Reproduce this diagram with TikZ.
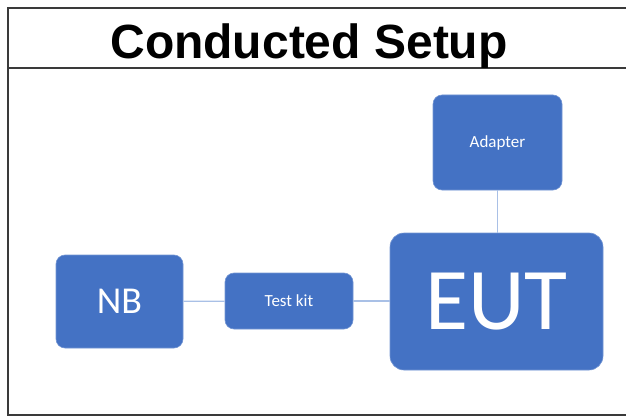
\documentclass[tikz,border=0pt]{standalone}
\usepackage{fontspec}
\setmainfont{Carlito}
\newfontfamily\titlefont{Liberation Sans}
\usetikzlibrary{positioning}
\definecolor{boxblue}{HTML}{4472C4}
\definecolor{linkblue}{HTML}{A9C0E6}
\definecolor{framegray}{HTML}{3A3A3A}

\begin{document}
\begin{tikzpicture}[x=1pt,y=-1pt,
    unit/.style={rectangle, rounded corners=9pt, fill=boxblue, draw=boxblue!75!white,
        line width=0.6pt, text=white, align=center, inner sep=0pt},
    link/.style={linkblue, line width=1.3pt}]
    \useasboundingbox (0,0) rectangle (626,417);

    % Frame and title
    \draw[framegray, line width=2pt] (627,8) -- (8,8) -- (8,415) -- (627,415);
    \draw[framegray, line width=2pt] (8,68) -- (627,68);
    \node[anchor=base, font=\titlefont\bfseries\fontsize{48}{52}\selectfont] (title) at (309,59) {Conducted Setup};

    % Units
    \node[unit, minimum width=127pt, minimum height=93pt, font=\fontsize{38}{42}\selectfont] (nb) at (119.5,301.5) {NB};
    \node[unit, minimum width=128pt, minimum height=56pt, font=\fontsize{17}{20}\selectfont] (kit) at (289,301) {Test kit};
    \node[unit, rounded corners=14pt, minimum width=213pt, minimum height=137pt, font=\fontsize{88}{92}\selectfont] (eut) at (496.5,301.5) {EUT};
    \node[unit, minimum width=129pt, minimum height=95pt, font=\fontsize{17}{20}\selectfont] (adapter) at (497.5,142.5) {Adapter};

    % Links
    \draw[link] (nb) -- (kit);
    \draw[link] (kit) -- (kit -| eut.west);
    \draw[link] (adapter) -- (adapter |- eut.north);
\end{tikzpicture}
\end{document}
